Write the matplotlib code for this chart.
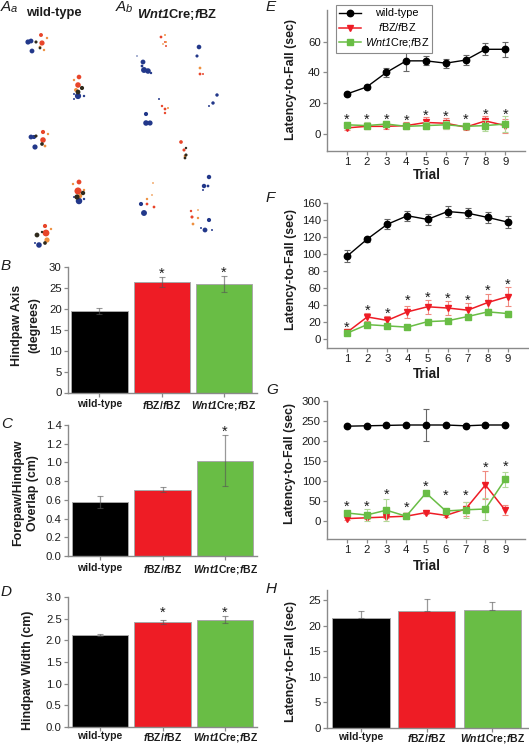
import matplotlib
matplotlib.use('Agg')
import matplotlib.pyplot as plt

plt.rcParams['font.family'] = ['Liberation Sans', 'DejaVu Sans']
plt.rcParams['mathtext.fontset'] = 'custom'
plt.rcParams['mathtext.default'] = 'regular'
plt.rcParams['mathtext.it'] = 'Liberation Sans:italic'
plt.rcParams['mathtext.rm'] = 'Liberation Sans:italic'
plt.rcParams['mathtext.bf'] = 'Liberation Sans:italic:bold'
plt.rcParams['mathtext.bfit'] = 'Liberation Sans:italic:bold'

W, H = 529, 744
BLACK, RED, GREEN = '#000000', '#ee1c25', '#69bd45'
AXIS_GREY = '#8a8a8a'
TEXT = '#1c1c1c'

trials = [1, 2, 3, 4, 5, 6, 7, 8, 9]
groups = ['wild-type', r'$\mathbf{f}$BZ/$\mathbf{f}$BZ', r'$\mathbf{Wnt1}$Cre;$\mathbf{f}$BZ']

# panel E
e_wt = [26, 30.5, 40, 47.5, 47.5, 46, 48, 55, 55]
e_wt_err = [1.5, 1.5, 3, 6.5, 3, 3, 3, 4, 4.8]
e_fbz = [4, 5, 5, 5.5, 7.5, 7, 4.5, 8.5, 5.5]
e_fbz_err = [1.5, 2, 2, 2, 3.5, 3.5, 2, 3.5, 4.5]
e_wnt = [6, 5.5, 6.5, 5, 5.5, 6, 5, 5.5, 6.5]
e_wnt_err = [2, 2, 2, 2, 2.5, 2.5, 2, 3.5, 5]
e_stars = [11.5, 11.5, 11.7, 11.2, 14, 13.8, 11.5, 15, 15]

# panel F
f_wt = [97.5, 117.5, 135, 145, 140.7, 150, 148, 143, 137.5]
f_wt_err = [7, 3, 6, 6, 6.5, 6.5, 6, 6.5, 7]
f_fbz = [8, 26, 22, 32, 38, 36.5, 34, 43, 50]
f_fbz_err = [2, 5, 5, 7, 8, 8, 8, 10, 11]
f_wnt = [7, 17, 15.5, 14, 20.5, 21.5, 26.5, 32, 30]
f_wnt_err = [2, 2, 2, 2, 2, 2.5, 2.5, 3, 3.5]
f_stars = [17.7, 38, 34, 49, 52.5, 52, 49, 61, 68]

# panel G
g_wt = [237, 238, 239, 240, 240, 240, 238, 240, 240]
g_wt_err = [2, 2, 2, 2, 39, 2, 2, 2, 2]
g_fbz = [6, 8, 10, 12, 21, 14, 30, 90, 27]
g_fbz_err = [3, 3, 3, 3, 4, 5, 17, 35, 13]
g_wnt = [20, 15, 27, 12, 70, 25, 28, 30, 104]
g_wnt_err = [6, 14, 28, 8, 4, 5, 20, 27, 19]
g_stars = [43.6, 43.6, 74, 42, 95.5, 71, 71, 142.5, 144]

# bar panels
b_vals = [19.5, 26.4, 26]
b_errs = [0.8, 1.2, 1.9]
b_stars = [None, 29.2, 29.5]
c_vals = [0.58, 0.71, 1.02]
c_errs = [0.065, 0.03, 0.27]
c_stars = [None, None, 1.37]
d_vals = [2.12, 2.43, 2.48]
d_errs = [0.02, 0.05, 0.08]
d_stars = [None, 2.72, 2.72]
h_vals = [21.5, 22.8, 23]
h_errs = [1.4, 2.4, 1.7]

# footprints, pixel positions in the photo panels: x, y, size
aa_blue = [(28, 42, 14), (31, 41, 12), (32, 51, 12), (78, 96, 20), (84, 96, 3), (74, 94, 2), (74, 99, 2),
           (31, 137, 12), (34, 137, 9), (35, 147, 14), (79, 201, 22), (84, 199, 3), (74, 197, 2),
           (39, 245, 16), (35, 243, 2)]
aa_red = [(41, 35, 8), (42, 43, 14), (79, 77, 11), (78, 85, 16), (43, 132, 9), (43, 140, 16),
          (79, 182, 12), (78, 191, 26), (45, 226, 9), (46, 233, 24)]
aa_orange = [(47, 38, 3), (44, 50, 3), (40, 47, 4), (74, 80, 3), (76, 90, 8), (48, 134, 3), (45, 146, 4),
             (73, 184, 3), (80, 196, 10), (51, 229, 3), (47, 240, 14), (84, 190, 3)]
aa_dark = [(36, 42, 5), (40, 48, 4), (82, 88, 9), (78, 92, 12), (36, 136, 5), (42, 144, 7), (83, 193, 10),
           (77, 197, 14), (37, 235, 12), (42, 232, 3), (45, 243, 7)]
ab_blue = [(143, 62, 12), (142, 66, 4), (144, 70, 18), (148, 71, 16), (199, 47, 11), (197, 56, 5), (217, 95, 6),
           (213, 103, 6), (209, 106, 2), (159, 99, 2), (146, 114, 9), (146, 123, 16), (150, 123, 14),
           (209, 177, 10), (204, 186, 10), (208, 186, 4), (141, 204, 9), (144, 213, 18), (209, 220, 9),
           (205, 230, 12), (201, 228, 2), (212, 230, 2), (137, 56, 1), (151, 73, 3), (203, 190, 2)]
ab_red = [(161, 37, 4), (165, 42, 2), (166, 46, 2), (200, 74, 4), (203, 74, 2),
          (162, 106, 3), (165, 109, 4), (165, 113, 3), (181, 142, 7), (184, 150, 5), (147, 204, 4),
          (154, 207, 4), (192, 217, 5), (191, 211, 3)]
ab_orange = [(165, 35, 2), (166, 42, 2), (163, 44, 1.5), (200, 68, 4), (168, 108, 2), (185, 156, 4),
             (147, 199, 3), (152, 195, 1.5), (153, 183, 1.5), (198, 218, 3), (193, 224, 4), (198, 210, 1.5)]
ab_dark = [(186, 148, 3), (186, 155, 5), (185, 158, 4)]


def px_axes(fig, left, top, right, bottom):
    return fig.add_axes([left / W, 1 - bottom / H, (right - left) / W, (bottom - top) / H])


def style(ax, fs=8.2, pad=1.5):
    ax.spines['top'].set_visible(False)
    ax.spines['right'].set_visible(False)
    for s in ['left', 'bottom']:
        ax.spines[s].set_color(AXIS_GREY)
        ax.spines[s].set_linewidth(1.0)
    ax.tick_params(color=AXIS_GREY, width=0.9, length=3, labelsize=fs, labelcolor=TEXT, pad=pad)
    ax.patch.set_alpha(0)


def star(ax, x, y):
    ax.annotate('*', (x, y), xytext=(0, -2.6), textcoords='offset points', ha='center', va='center',
                fontsize=10.5, color=TEXT)


def trial_panel(ax, wt, wt_err, fbz, fbz_err, wnt, wnt_err, stars, ylim, yticks):
    style(ax)
    ax.errorbar(trials, wt, yerr=wt_err, color=BLACK, ecolor='#666666', elinewidth=0.8, capsize=2, capthick=0.8,
                marker='o', ms=4.6, lw=1.0, label='wild-type', zorder=3)
    ax.errorbar(trials, fbz, yerr=fbz_err, color=RED, ecolor='#f08a80', elinewidth=0.8, capsize=2, capthick=0.8,
                marker='v', ms=4.2, lw=1.1, label=groups[1].replace('mathbf', 'mathit'), zorder=4)
    ax.errorbar(trials, wnt, yerr=wnt_err, color=GREEN, ecolor='#b3d99a', elinewidth=0.8, capsize=2, capthick=0.8,
                marker='s', ms=4.2, lw=1.1, label=groups[2].replace('mathbf', 'mathit'), zorder=5)
    for t, s in zip(trials, stars):
        star(ax, t, s)
    ax.set_xlim(0, 10)
    ax.set_ylim(*ylim)
    ax.set_xticks(trials)
    ax.set_yticks(yticks)


def bar_panel(ax, vals, errs, stars, ylim, yticks, xlim=(-0.505, 2.53), width=0.905, both=True, pad=1):
    style(ax)
    lower = errs if both else [0, 0, 0]
    ax.bar([0, 1, 2], vals, width=width, color=[BLACK, RED, GREEN], edgecolor='#a8a8a8', linewidth=0.7,
           yerr=[lower, errs], ecolor='#55555599', error_kw=dict(elinewidth=0.9, capsize=2, capthick=0.8))
    for i, s in enumerate(stars):
        if s is not None:
            star(ax, i, s)
    ax.set_xlim(*xlim)
    ax.set_ylim(*ylim)
    ax.set_xticks([0, 1, 2])
    ax.set_xticklabels(groups, fontweight='bold', fontsize=7.5)
    ax.tick_params(axis='x', pad=pad)
    ax.set_yticks(yticks)


fig = plt.figure(figsize=(W / 100, H / 100), dpi=100)

# overlay in pixel coordinates for the photo panels and the free labels
ov = fig.add_axes([0, 0, 1, 1])
ov.set_xlim(0, W)
ov.set_ylim(H, 0)
ov.axis('off')
for blobs, col in [(aa_blue + ab_blue, '#22388a'), (aa_red + ab_red, '#e8452a'),
                   (aa_orange + ab_orange, '#ee9040'), (aa_dark + ab_dark, '#2f2a1c')]:
    ov.scatter([b[0] for b in blobs], [b[1] for b in blobs], s=[b[2] for b in blobs], color=col, linewidths=0)

ax_b = px_axes(fig, 68, 267, 257, 392.5)
bar_panel(ax_b, b_vals, b_errs, b_stars, (0, 30), [0, 5, 10, 15, 20, 25, 30], pad=1.6)
ax_c = px_axes(fig, 68, 425, 257, 556)
bar_panel(ax_c, c_vals, c_errs, c_stars, (0, 1.4), [0, 0.2, 0.4, 0.6, 0.8, 1.0, 1.2, 1.4], xlim=(-0.513, 2.51),
          pad=2.2)
ax_d = px_axes(fig, 68, 597, 257, 727)
bar_panel(ax_d, d_vals, d_errs, d_stars, (0, 3.0), [0, 0.5, 1.0, 1.5, 2.0, 2.5, 3.0], xlim=(-0.513, 2.51), pad=0)
ax_h = px_axes(fig, 327, 590, 528, 728)
bar_panel(ax_h, h_vals, h_errs, [None, None, None], (0, 27), [0, 5, 10, 15, 20, 25], xlim=(-0.514, 2.54),
          width=0.876, both=False, pad=0)

ax_e = px_axes(fig, 327, 10, 525, 151)
trial_panel(ax_e, e_wt, e_wt_err, e_fbz, e_fbz_err, e_wnt, e_wnt_err, e_stars, (-11, 80.5), [0, 20, 40, 60])
ax_f = px_axes(fig, 327, 203, 528, 348)
trial_panel(ax_f, f_wt, f_wt_err, f_fbz, f_fbz_err, f_wnt, f_wnt_err, f_stars, (-10.5, 160),
            [0, 20, 40, 60, 80, 100, 120, 140, 160])
ax_g = px_axes(fig, 327, 401, 525, 539)
trial_panel(ax_g, g_wt, g_wt_err, g_fbz, g_fbz_err, g_wnt, g_wnt_err, g_stars, (-45, 300),
            [0, 50, 100, 150, 200, 250, 300])

# legend sits in the top of panel E, labels centred like the original
handles, labels = ax_e.get_legend_handles_labels()
leg = ax_e.legend([h[0] for h in handles], labels, loc='upper left', bbox_to_anchor=(0.045, 1.035), borderaxespad=0,
                  fontsize=7.8, frameon=True, fancybox=False, edgecolor='#8a8a8a', framealpha=1, borderpad=0.3,
                  labelspacing=0.28, handlelength=2.0, handletextpad=0.35, numpoints=1)
leg.get_frame().set_linewidth(0.8)
fig.canvas.draw()
text_w = [t.get_window_extent().width for t in leg.get_texts()]
for t, w in zip(leg.get_texts(), text_w):
    t.set_position(((max(text_w) - w) / 2, 0))

# free labels, pixel positions
ylab_fs = 8.9
for x, y, s in [(17, 325, 'Hindpaw Axis'), (34, 325, '(degrees)'), (18, 493, 'Forepaw/Hindpaw'),
                (33, 493, 'Overlap (cm)'), (28, 670, 'Hindpaw Width (cm)')]:
    ov.text(x, y, s, rotation=90, ha='center', va='center', fontsize=ylab_fs, fontweight='bold', color=TEXT)
for x, y in [(291, 80), (291, 270), (290, 463), (291, 662)]:
    ov.text(x, y, 'Latency-to-Fall (sec)', rotation=90, ha='center', va='center', fontsize=ylab_fs,
            fontweight='bold', color=TEXT)
for y in [175, 374, 566]:
    ov.text(427, y, 'Trial', ha='center', va='center', fontsize=9.8, fontweight='bold', color=TEXT)

ov.text(26, 13, 'wild-type', fontsize=9.3, fontweight='bold', va='center', color=TEXT)
ov.text(137, 14, groups[2], fontsize=9.3, fontweight='bold', va='center', color=TEXT)

for x, y, s in [(1, 266, 'B'), (1, 424, 'C'), (1, 592, 'D'), (266, 7, 'E'), (266, 198, 'F'), (266, 390, 'G'),
                (266, 589, 'H')]:
    ov.text(x, y, s, fontsize=11, style='italic', va='center', color=TEXT)
ov.text(1, 7, 'A', fontsize=11, style='italic', va='center', color=TEXT)
ov.text(10.5, 8.5, 'a', fontsize=8, style='italic', va='center', color=TEXT)
ov.text(116, 7, 'A', fontsize=11, style='italic', va='center', color=TEXT)
ov.text(126, 8.5, 'b', fontsize=8, style='italic', va='center', color=TEXT)

fig.savefig('out.png', dpi=100)
